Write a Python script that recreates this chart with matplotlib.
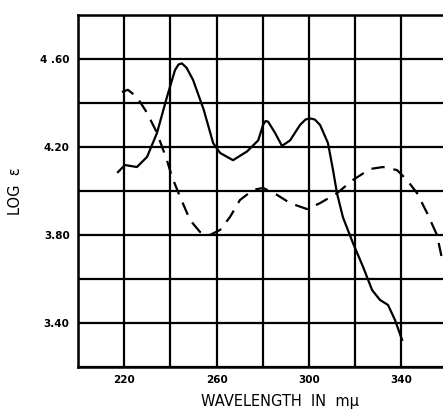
import matplotlib.pyplot as plt
import numpy as np

# solid curve
solid_wl = [217.3, 220.3, 225.5, 229.9, 234.2, 238.5, 242.0, 243.5, 245.0, 247.0,
            249.8, 254.4, 258.5, 261.5, 267.1, 273.2, 278.0, 280.1, 281.2, 282.3,
            285.3, 288.3, 291.8, 296.1, 298.5, 300.4, 302.5, 304.8, 308.2, 310.4,
            312.1, 314.7, 319.0, 323.4, 327.3, 330.7, 334.2, 337.2, 340.3]
solid_log = [4.086, 4.118, 4.109, 4.155, 4.264, 4.427, 4.55, 4.575, 4.58, 4.56,
             4.505, 4.37, 4.218, 4.173, 4.14, 4.18, 4.23, 4.30, 4.318, 4.315,
             4.264, 4.205, 4.23, 4.30, 4.325, 4.33, 4.325, 4.30, 4.218, 4.095,
             3.99, 3.88, 3.764, 3.655, 3.55, 3.505, 3.482, 3.414, 3.323]

# dashed curve
dash_wl = [219.0, 221.6, 225.5, 229.9, 234.2, 238.5, 240.7, 244.2, 248.5, 252.8,
           257.1, 261.5, 265.8, 270.1, 275.8, 280.1, 286.2, 291.8, 299.1, 304.8,
           312.1, 319.0, 326.4, 332.0, 338.1, 342.4, 346.8, 351.1, 355.4, 358.0]
dash_log = [4.45, 4.46, 4.427, 4.355, 4.264, 4.14, 4.064, 3.973, 3.868, 3.814,
            3.80, 3.823, 3.882, 3.959, 4.005, 4.014, 3.982, 3.945, 3.918, 3.945,
            3.99, 4.05, 4.10, 4.109, 4.095, 4.05, 3.99, 3.90, 3.80, 3.67]

x_ticks = [220, 260, 300, 340]
y_ticks = [3.40, 3.80, 4.20, 4.60]
y_labels = ["3.40", "3.80", "4.20", "4 .60"]

fig = plt.figure(figsize=(4.43, 4.17), dpi=100)
ax = fig.add_axes([78 / 443, 1 - 367 / 417, (443 - 78) / 443, (367 - 15) / 417])

ax.plot(solid_wl, solid_log, color="black", lw=1.6)
ax.plot(dash_wl, dash_log, color="black", lw=1.6, dashes=(6, 4))

ax.set_xlim(200, 358)
ax.set_ylim(3.20, 4.80)

# grid every 20 m-mu and every 0.2 log units
ax.set_xticks(np.arange(200, 360, 20), minor=True)
ax.set_yticks(np.arange(3.2, 4.81, 0.2), minor=True)
ax.set_xticks(x_ticks)
ax.set_xticklabels([str(t) for t in x_ticks], fontsize=7.5, fontweight="bold")
ax.set_yticks(y_ticks)
ax.set_yticklabels(y_labels, fontsize=7.5, fontweight="bold")
ax.grid(which="both", color="black", lw=1.6)
ax.tick_params(which="both", length=0, pad=6)

for side in ["left", "top", "bottom"]:
    ax.spines[side].set_linewidth(1.8)
ax.spines["right"].set_visible(False)

ax.set_xlabel("WAVELENGTH  IN  mμ", fontsize=10.5, x=0.553, labelpad=6)
ax.set_ylabel("LOG  ε", fontsize=10.5, labelpad=12)

fig.savefig("out.png", dpi=100)
